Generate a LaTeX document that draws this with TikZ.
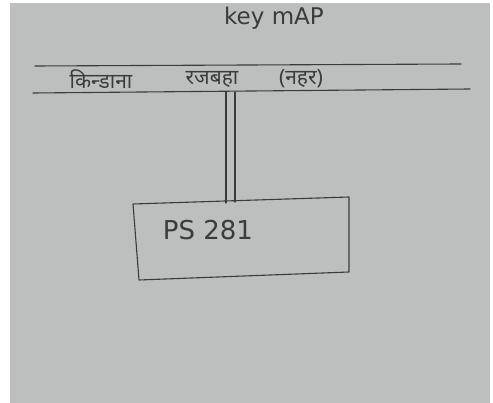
\documentclass[tikz,border=0pt]{standalone}
\usepackage{fontspec}
\setmainfont{DejaVu Sans}
\newfontfamily\devfont[Script=Devanagari]{Noto Sans}
\definecolor{paper}{HTML}{BCBFBE}
\definecolor{ink}{HTML}{3A3C3C}
\tikzset{
  pen/.style={draw=ink, line width=1.1pt, line cap=round, line join=round},
  handtext/.style={text=ink, inner sep=0pt},
  devtext/.style={handtext, font=\devfont\fontsize{21}{23}\selectfont},
}
\begin{document}
\begin{tikzpicture}[x=1pt,y=-1pt]
\useasboundingbox (0,0) rectangle (493,403);
\fill[white] (0,0) rectangle (493,403);
\fill[paper] (10,3) rectangle (490,403);
% title
\node[handtext, font=\fontsize{23}{25}\selectfont] (title) at (274,18) {key mAP};
% canal banks
\coordinate (t1) at (35,66);
\coordinate (t2) at (461,64);
\coordinate (b1) at (33,93);
\coordinate (b2) at (470,89);
\draw[pen] (t1) -- (t2);
\draw[pen] (b1) -- (b2);
\node[devtext] (canal1) at (101,79) {किन्डाना};
\node[devtext] (canal2) at (212,79) {रजबहा};
\node[devtext] (canal3) at (301,79) {(नहर)};
% box
\coordinate (r1) at (133,204);
\coordinate (r2) at (349,197);
\coordinate (r3) at (349,272);
\coordinate (r4) at (139,280);
\draw[pen] (r1) -- (r2) -- (r3) -- (r4) -- cycle;
\node[handtext, font=\fontsize{26}{28}\selectfont] (ps) at (208,230) {PS 281};
% connection: double line
\coordinate (v1a) at (226,92);
\coordinate (v1b) at (226,203);
\coordinate (v2a) at (235,92);
\coordinate (v2b) at (235,202);
\draw[pen] (v1a) -- (v1b);
\draw[pen] (v2a) -- (v2b);
\end{tikzpicture}
\end{document}
